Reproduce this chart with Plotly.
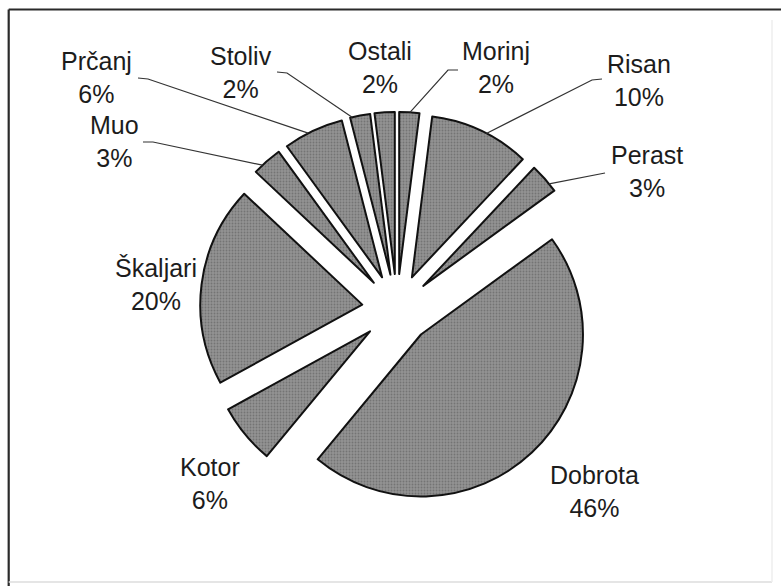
import math
import plotly.graph_objects as go

# ---- data ----
labels = ["Morinj", "Risan", "Perast", "Dobrota", "Kotor", "Škaljari", "Muo", "Prčanj", "Stoliv", "Ostali"]
values = [2, 10, 3, 46, 6, 20, 3, 6, 2, 2]

# ---- layout constants (pixels) ----
W, H = 781, 586
CX, CY = 397, 309
R = 162
PULL = 0.216
FONT = "Liberation Sans, Arial, Helvetica, sans-serif"
FSIZE = 25

# label block centres (pixels)
label_pos = {
    "Prčanj": (96, 78),
    "Muo": (114, 141),
    "Stoliv": (241, 72),
    "Ostali": (380, 68),
    "Morinj": (496, 68),
    "Risan": (639, 80),
    "Perast": (647, 171),
    "Škaljari": (156, 284),
    "Kotor": (210, 483),
    "Dobrota": (594, 492),
}
# leader lines: fraction along slice where line hits, and points near label
leaders = {
    "Prčanj": (0.41, [(138, 78), (148, 79)]),
    "Muo": (0.31, [(143, 142), (153, 142)]),
    "Stoliv": (0.10, [(277, 72), (287, 73)]),
    "Morinj": (0.53, [(458, 70), (448, 70)]),
    "Risan": (0.56, [(602, 79), (592, 80)]),
    "Perast": (0.72, [(605, 173)]),
}

def px(x):
    return x / W

def py(y):
    return 1 - y / H

total = sum(values)
n = len(values)

fig = go.Figure()
fig.add_trace(go.Pie(
    labels=labels,
    values=values,
    sort=False,
    direction="clockwise",
    rotation=0,
    pull=[PULL] * n,
    textinfo="none",
    hoverinfo="label+percent",
    showlegend=False,
    marker=dict(
        colors=["#8e8e8e"] * n,
        line=dict(color="#111111", width=2),
        pattern=dict(shape=".", size=3, solidity=0.3,
                     fgcolor="#747474", bgcolor="#939393"),
    ),
    domain=dict(
        x=[px(CX - R * (1 + PULL)), px(CX + R * (1 + PULL))],
        y=[py(CY + R * (1 + PULL)), py(CY - R * (1 + PULL))],
    ),
))

annotations = []
shapes = []
cum = 0
for lab, v in zip(labels, values):
    a0 = 90 - 360 * cum / total
    a1 = a0 - 360 * v / total
    mid = math.radians((a0 + a1) / 2)
    cum += v
    pct = f"{round(100 * v / total)}%"
    lx, ly = label_pos[lab]
    annotations.append(dict(
        x=px(lx), y=py(ly), xref="paper", yref="paper",
        text=f"{lab}<br>{pct}", showarrow=False,
        xanchor="center", yanchor="middle", align="center",
        font=dict(family=FONT, size=FSIZE, color="#1c1c1c"),
    ))
    if lab in leaders:
        frac, pts = leaders[lab]
        th = math.radians(a0 - frac * (a0 - a1))
        pcx = CX + PULL * R * math.cos(mid)
        pcy = CY - PULL * R * math.sin(mid)
        ex = pcx + R * math.cos(th)
        ey = pcy - R * math.sin(th)
        allpts = pts + [(ex, ey)]
        path = "M " + " L ".join(f"{px(x):.5f},{py(y):.5f}" for x, y in allpts)
        shapes.append(dict(type="path", path=path, xref="paper", yref="paper",
                           line=dict(color="#333333", width=1.2)))

# frame
shapes.append(dict(type="line", xref="paper", yref="paper",
                   x0=px(8.7), x1=1, y0=py(9.5), y1=py(9.5),
                   line=dict(color="#2a2a2a", width=2.2)))
shapes.append(dict(type="line", xref="paper", yref="paper",
                   x0=px(8.7), x1=px(8.7), y0=py(9.5), y1=0,
                   line=dict(color="#2a2a2a", width=2.2)))
shapes.append(dict(type="line", xref="paper", yref="paper",
                   x0=px(8.7), x1=px(772), y0=py(582), y1=py(582),
                   line=dict(color="#dddddd", width=1.5)))
shapes.append(dict(type="line", xref="paper", yref="paper",
                   x0=px(772), x1=px(772), y0=py(20), y1=py(582),
                   line=dict(color="#eeeeee", width=1.5)))

fig.update_layout(
    width=W, height=H,
    margin=dict(l=0, r=0, t=0, b=0),
    paper_bgcolor="white",
    plot_bgcolor="white",
    annotations=annotations,
    shapes=shapes,
)

fig.write_html("out.html", config={"displayModeBar": False},
               post_script="document.body.style.margin='0';")
